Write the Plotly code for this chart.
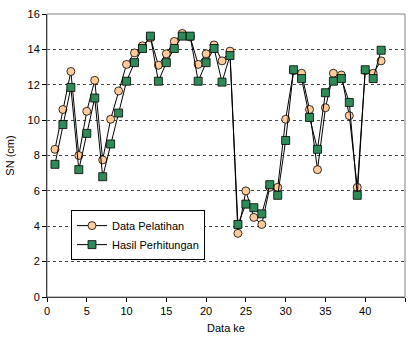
import plotly.graph_objects as go

x_vals = list(range(1, 43))
data_pelatihan = [8.35, 10.6, 12.75, 8.0, 10.5, 12.25, 7.75, 10.05, 11.65, 13.15,
                  13.8, 14.2, 14.65, 13.1, 13.75, 14.45, 14.9, 14.7, 13.15, 13.75,
                  14.25, 13.35, 13.9, 3.6, 6.0, 4.5, 4.1, 6.2, 6.2, 10.05,
                  12.8, 12.65, 10.6, 7.2, 10.7, 12.65, 12.55, 10.25, 6.2, 12.8,
                  12.65, 13.35]
hasil_perhitungan = [7.5, 9.75, 11.85, 7.2, 9.25, 11.25, 6.8, 8.65, 10.4, 12.2,
                     13.25, 14.05, 14.75, 12.2, 13.25, 14.05, 14.75, 14.75, 12.2, 13.25,
                     14.05, 12.15, 13.65, 4.1, 5.25, 5.05, 4.7, 6.35, 5.75, 8.85,
                     12.85, 12.35, 10.15, 8.35, 11.55, 12.2, 12.35, 11.0, 5.75, 12.85,
                     12.35, 13.95]

fig = go.Figure()
fig.add_trace(go.Scatter(
    x=x_vals, y=data_pelatihan, name="Data Pelatihan", mode="lines+markers",
    line=dict(color="black", width=1),
    marker=dict(symbol="circle", size=8, color="#FFCC99", line=dict(color="black", width=0.8)),
))
fig.add_trace(go.Scatter(
    x=x_vals, y=hasil_perhitungan, name="Hasil Perhitungan", mode="lines+markers",
    line=dict(color="black", width=1),
    marker=dict(symbol="square", size=8, color="#2E8B57", line=dict(color="black", width=0.8)),
))

fig.update_layout(
    width=409, height=339,
    margin=dict(l=47, r=4, t=14, b=42),
    paper_bgcolor="white", plot_bgcolor="white",
    font=dict(family="Liberation Sans, Arial", size=11, color="black"),
    showlegend=True,
    legend=dict(x=0.067, y=0.307, xanchor="left", yanchor="top",
                bgcolor="white", bordercolor="black", borderwidth=1,
                font=dict(size=11), tracegroupgap=0, itemwidth=30),
    shapes=[dict(type="rect", xref="paper", yref="paper", x0=0, y0=0, x1=1, y1=1,
                 line=dict(color="#808080", width=1), layer="above")],
)
fig.update_xaxes(
    range=[0, 45], dtick=5, tick0=0, showgrid=False, zeroline=False, automargin=False,
    showline=True, linecolor="black", linewidth=1,
    ticks="outside", ticklen=4, tickcolor="black",
    title=dict(text="Data ke", font=dict(size=11), standoff=8),
)
fig.update_yaxes(
    range=[0, 16], dtick=2, tick0=0, showgrid=True, gridcolor="#444444",
    griddash="3px,3px", gridwidth=1, zeroline=False, automargin=False,
    showline=True, linecolor="black", linewidth=1,
    ticks="outside", ticklen=4, tickcolor="black",
    title=dict(text="SN (cm)", font=dict(size=11), standoff=10),
)

fig.write_html("out.html", config={"displayModeBar": False},
               post_script="document.body.style.margin='0';")
